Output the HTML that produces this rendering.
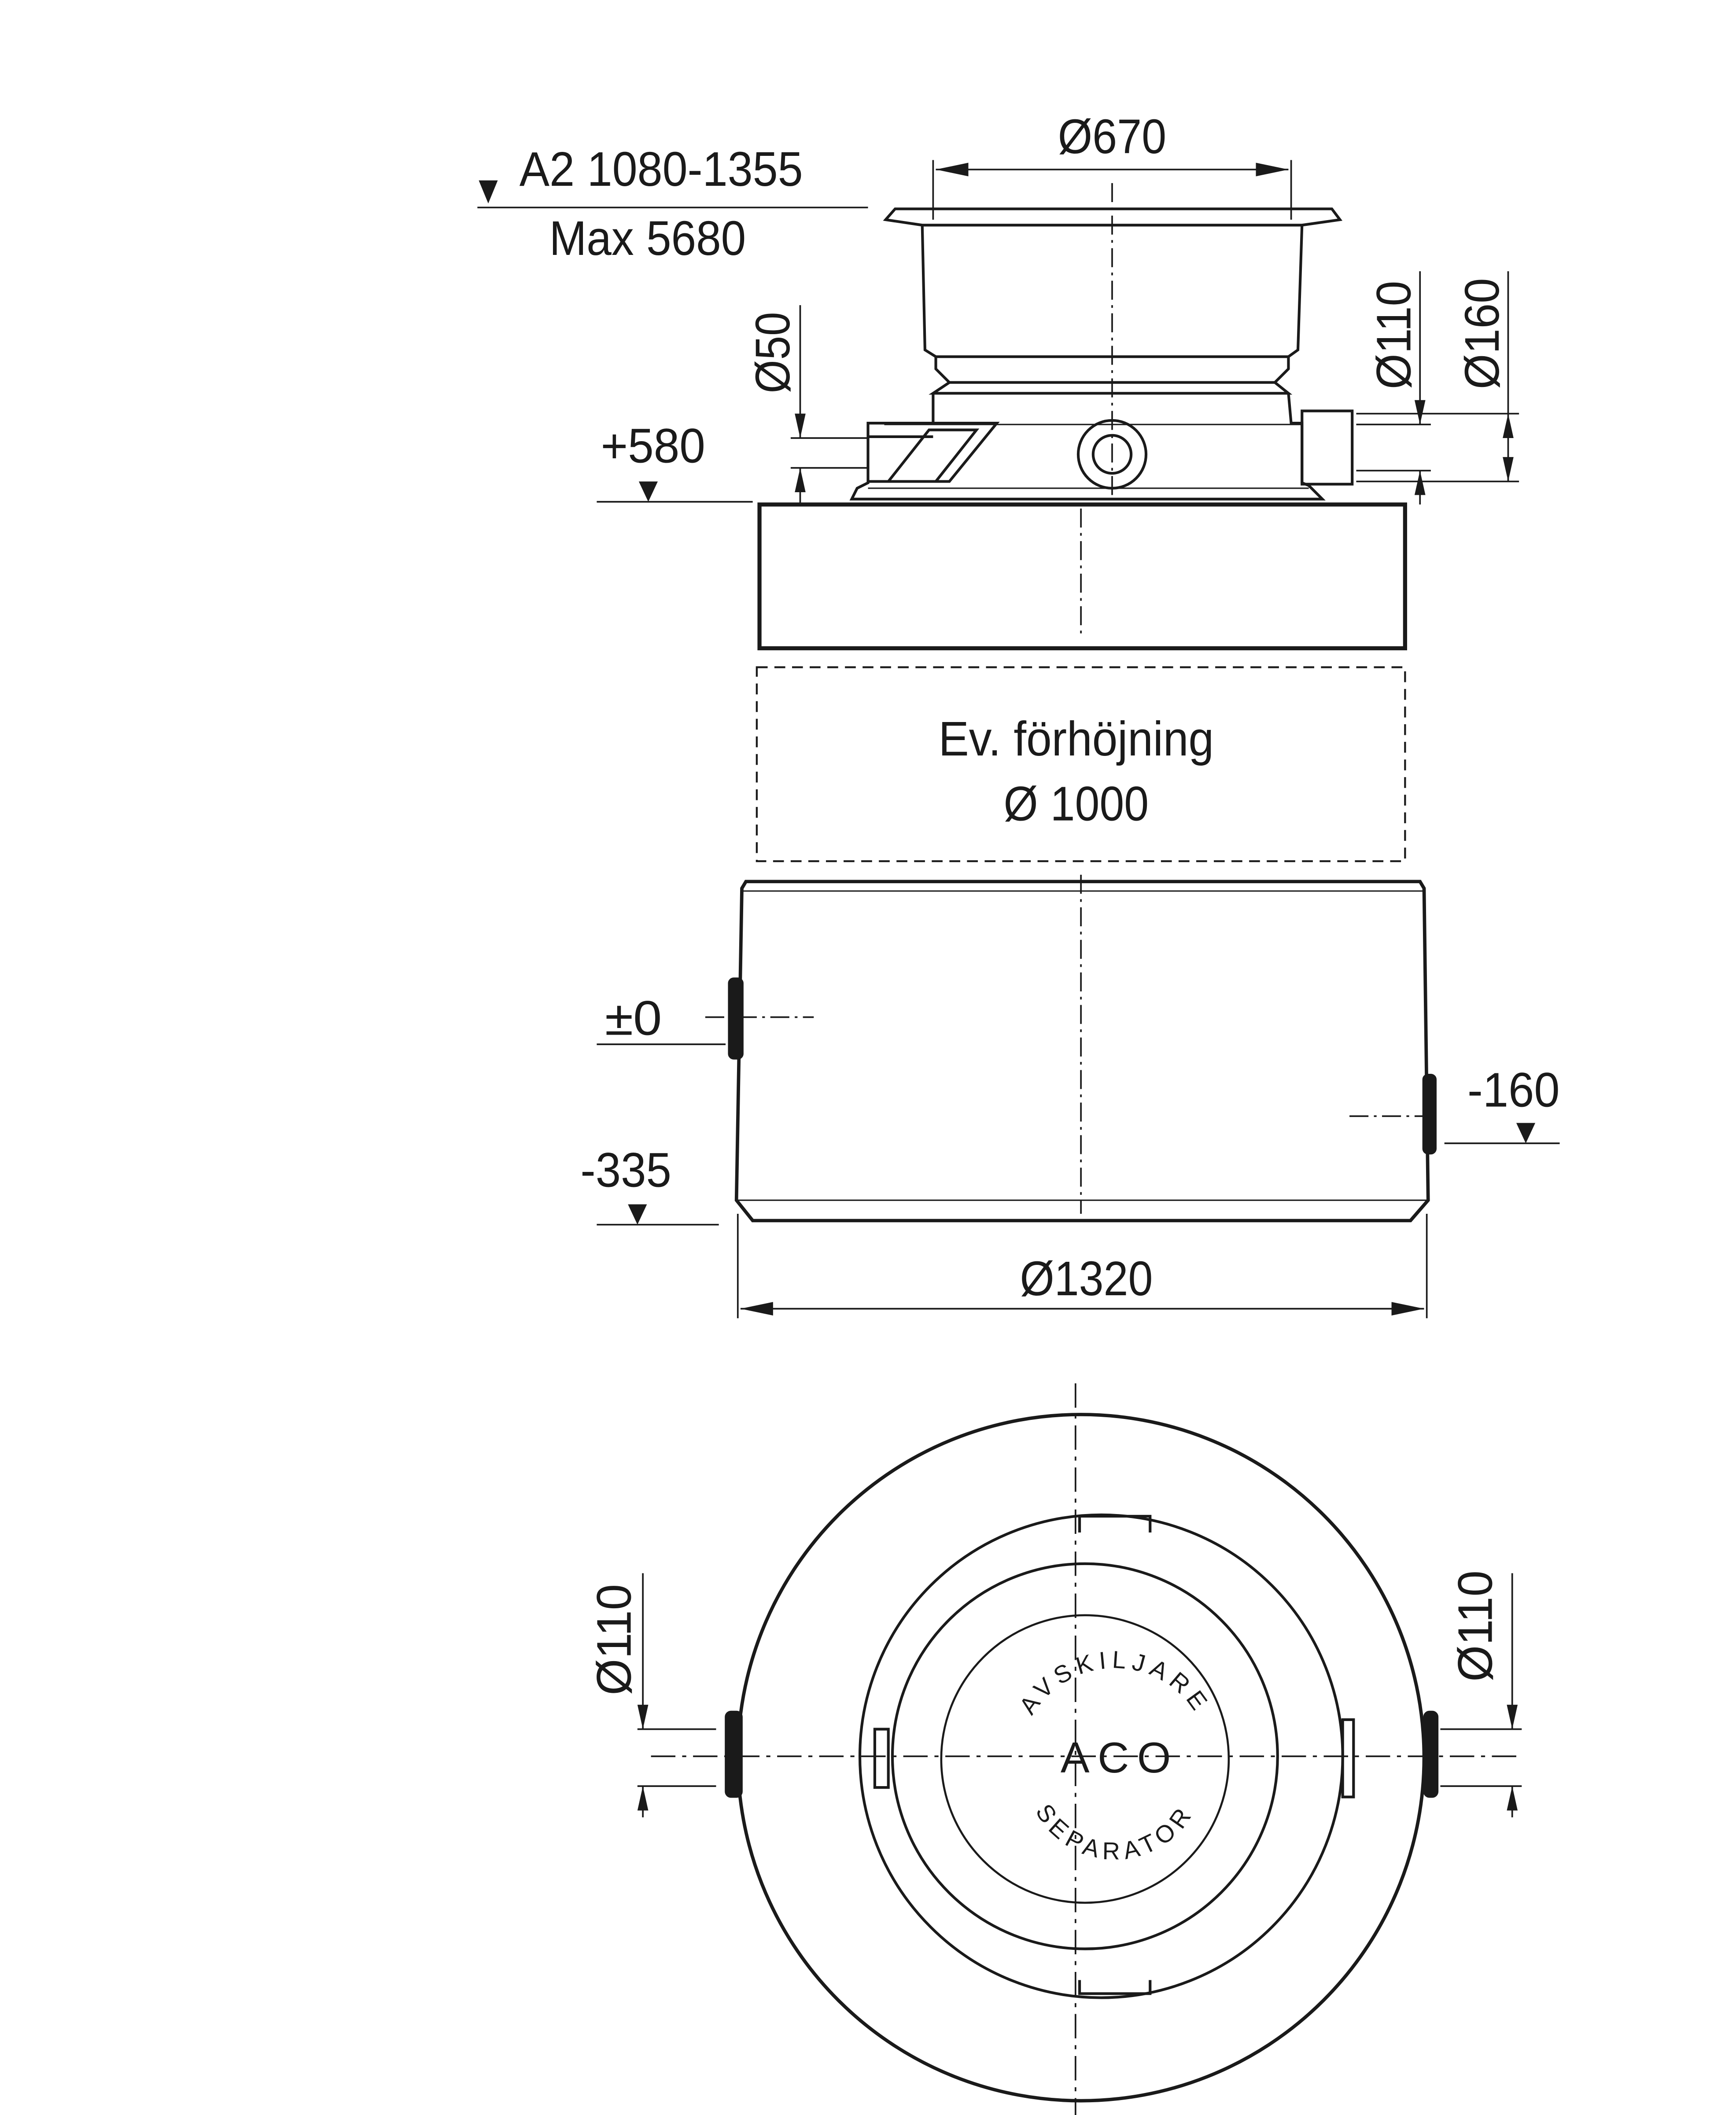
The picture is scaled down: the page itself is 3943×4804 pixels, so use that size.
<!DOCTYPE html>
<html><head><meta charset="utf-8">
<style>html,body{margin:0;padding:0;background:#fff}svg{display:block}
text{font-family:"Liberation Sans",sans-serif;fill:#1a1a1a}</style></head>
<body>
<svg width="3943" height="4804" viewBox="0 0 1280 1559.5" preserveAspectRatio="none" xmlns="http://www.w3.org/2000/svg">
<defs>
<marker id="a" viewBox="0 0 18 8" refX="18" refY="4" markerWidth="18" markerHeight="8" orient="auto-start-reverse" markerUnits="userSpaceOnUse"><path d="M0,0 L18,4 L0,8 z" fill="#1a1a1a"/></marker>
<marker id="b" viewBox="0 0 24 10" refX="24" refY="5" markerWidth="24" markerHeight="10" orient="auto-start-reverse" markerUnits="userSpaceOnUse"><path d="M0,0 L24,5 L0,10 z" fill="#1a1a1a"/></marker>
<path id="arcTop" d="M752,1300 A70,70 0 0 1 892,1300"/>
<path id="arcBot" d="M756,1305 A66,66 0 0 0 888,1305"/>
</defs>
<g stroke="#1a1a1a" fill="none" stroke-width="1.2">
<line x1="352" y1="153" x2="640" y2="153"/>
<line x1="688" y1="118" x2="688" y2="162"/><line x1="952" y1="118" x2="952" y2="162"/>
<line x1="690" y1="125" x2="950" y2="125" marker-start="url(#b)" marker-end="url(#b)"/>
<line x1="820" y1="135" x2="820" y2="365" stroke-dasharray="14,4,2,4"/>
<line x1="797" y1="375" x2="797" y2="470" stroke-dasharray="14,4,2,4"/>
<line x1="797" y1="645" x2="797" y2="895" stroke-dasharray="14,4,2,4"/>
<g stroke-width="2">
<path d="M653,162 L660,154 L982,154 L988,162 L960,166 L680,166 Z"/>
<path d="M680,166 L682,258 L690,263 L950,263 L957,258 L960,166"/>
<path d="M690,263 L690,272 L700,282 L940,282 L950,272 L950,263"/>
<path d="M700,282 L688,290 L950,290 L940,282"/>
<path d="M688,290 L688,312 L640,312 L640,356 L632,360 L628,368 L975,368 L965,358 L960,356 L960,312 L952,312 L950,290"/>
<rect x="960" y="303" width="37" height="54"/>
<path d="M640,322 L688,322 M688,312 L735,312 L700,355 L640,355"/>
<path d="M655,355 L685,317 L720,317 L690,355"/>
<circle cx="820" cy="335" r="25"/><circle cx="820" cy="335" r="14"/>
</g>
<line x1="652" y1="313" x2="960" y2="313" stroke-width="1"/>
<line x1="640" y1="360" x2="965" y2="360" stroke-width="1"/>
<line x1="583" y1="323" x2="640" y2="323"/><line x1="583" y1="345" x2="640" y2="345"/>
<line x1="590" y1="225" x2="590" y2="323" marker-end="url(#a)"/><line x1="590" y1="372" x2="590" y2="345" marker-end="url(#a)"/>
<line x1="440" y1="370" x2="555" y2="370"/>
<line x1="1000" y1="305" x2="1120" y2="305"/><line x1="1000" y1="355" x2="1120" y2="355"/>
<line x1="1000" y1="313" x2="1055" y2="313"/><line x1="1000" y1="347" x2="1055" y2="347"/>
<line x1="1047" y1="200" x2="1047" y2="313" marker-end="url(#a)"/><line x1="1047" y1="372" x2="1047" y2="347" marker-end="url(#a)"/>
<line x1="1112" y1="200" x2="1112" y2="305"/><line x1="1112" y1="330" x2="1112" y2="305" marker-end="url(#a)"/><line x1="1112" y1="330" x2="1112" y2="355" marker-end="url(#a)"/>
<rect x="560" y="372" width="476" height="106" stroke-width="3"/>
<rect x="558" y="492" width="478" height="143" stroke-dasharray="8,5" stroke-width="1.4"/>
<g stroke-width="2.5">
<path d="M547,655 L550,650 L1047,650 L1050,655 L1053,885 L1040,900 L555,900 L543,885 Z"/>
<rect x="538" y="722" width="9" height="58" rx="3" fill="#1a1a1a"/>
<rect x="1050" y="793" width="8" height="57" rx="3" fill="#1a1a1a"/>
</g>
<line x1="547" y1="657" x2="1050" y2="657" stroke-width="1"/>
<line x1="543" y1="885" x2="1053" y2="885" stroke-width="1"/>
<line x1="440" y1="770" x2="535" y2="770"/>
<line x1="520" y1="750" x2="600" y2="750" stroke-dasharray="14,4,2,4"/>
<line x1="1065" y1="843" x2="1150" y2="843"/>
<line x1="995" y1="823" x2="1050" y2="823" stroke-dasharray="14,4,2,4"/>
<line x1="440" y1="903" x2="530" y2="903"/>
<line x1="544" y1="895" x2="544" y2="972"/><line x1="1052" y1="895" x2="1052" y2="972"/>
<line x1="546" y1="965" x2="1050" y2="965" marker-start="url(#b)" marker-end="url(#b)"/>
<line x1="793" y1="1020" x2="793" y2="1570" stroke-dasharray="18,5,3,5"/>
<line x1="480" y1="1295" x2="1120" y2="1295" stroke-dasharray="18,5,3,5"/>
<circle cx="797" cy="1296" r="253" stroke-width="2.5"/>
<g stroke-width="2">
<circle cx="812" cy="1295" r="178"/>
<circle cx="800" cy="1295" r="142"/>
<circle cx="800" cy="1297" r="106" stroke-width="1.5"/>
<path d="M796,1130 L796,1118 L848,1118 L848,1130"/>
<path d="M796,1460 L796,1470 L848,1470 L848,1460"/>
<rect x="645" y="1275" width="10" height="43"/>
<rect x="990" y="1268" width="8" height="57"/>
</g>
<rect x="535" y="1262" width="12" height="63" rx="4" fill="#1a1a1a"/>
<rect x="1050" y="1262" width="10" height="63" rx="4" fill="#1a1a1a"/>
<line x1="470" y1="1275" x2="528" y2="1275"/><line x1="470" y1="1317" x2="528" y2="1317"/>
<line x1="474" y1="1160" x2="474" y2="1275" marker-end="url(#a)"/><line x1="474" y1="1340" x2="474" y2="1317" marker-end="url(#a)"/>
<line x1="1062" y1="1275" x2="1122" y2="1275"/><line x1="1062" y1="1317" x2="1122" y2="1317"/>
<line x1="1115" y1="1160" x2="1115" y2="1275" marker-end="url(#a)"/><line x1="1115" y1="1340" x2="1115" y2="1317" marker-end="url(#a)"/>
</g>
<g fill="#1a1a1a">
<path d="M353,133 L367,133 L360,150 Z"/>
<path d="M471,355 L485,355 L478,370 Z"/>
<path d="M1118,828 L1132,828 L1125,843 Z"/>
<path d="M463,888 L477,888 L470,903 Z"/>
</g>
<g font-size="36">
<text x="383" y="137" textLength="209" lengthAdjust="spacingAndGlyphs">A2 1080-1355</text>
<text x="405" y="188" textLength="145" lengthAdjust="spacingAndGlyphs">Max 5680</text>
<text x="780" y="113" textLength="80" lengthAdjust="spacingAndGlyphs">Ø670</text>
<text x="443" y="341" textLength="77" lengthAdjust="spacingAndGlyphs">+580</text>
<text transform="translate(582,290) rotate(-90)" textLength="60" lengthAdjust="spacingAndGlyphs">Ø50</text>
<text transform="translate(1040,287) rotate(-90)" textLength="80" lengthAdjust="spacingAndGlyphs">Ø110</text>
<text transform="translate(1105,287) rotate(-90)" textLength="82" lengthAdjust="spacingAndGlyphs">Ø160</text>
<text x="692" y="557" textLength="203" lengthAdjust="spacingAndGlyphs">Ev. förhöjning</text>
<text x="740" y="605" textLength="107" lengthAdjust="spacingAndGlyphs">Ø 1000</text>
<text x="446" y="763" textLength="42" lengthAdjust="spacingAndGlyphs">±0</text>
<text x="1082" y="816" textLength="68" lengthAdjust="spacingAndGlyphs">-160</text>
<text x="428" y="875" textLength="67" lengthAdjust="spacingAndGlyphs">-335</text>
<text x="752" y="955" textLength="98" lengthAdjust="spacingAndGlyphs">Ø1320</text>
<text transform="translate(465,1250) rotate(-90)" textLength="82" lengthAdjust="spacingAndGlyphs">Ø110</text>
<text transform="translate(1100,1240) rotate(-90)" textLength="82" lengthAdjust="spacingAndGlyphs">Ø110</text>
</g>
<text x="782" y="1307" font-size="32" letter-spacing="6">ACO</text>
<text font-size="18" letter-spacing="4"><textPath href="#arcTop" startOffset="50%" text-anchor="middle">AVSKILJARE</textPath></text>
<text font-size="18" letter-spacing="4"><textPath href="#arcBot" startOffset="50%" text-anchor="middle" side="right">SEPARATOR</textPath></text>
</svg>
</body></html>
